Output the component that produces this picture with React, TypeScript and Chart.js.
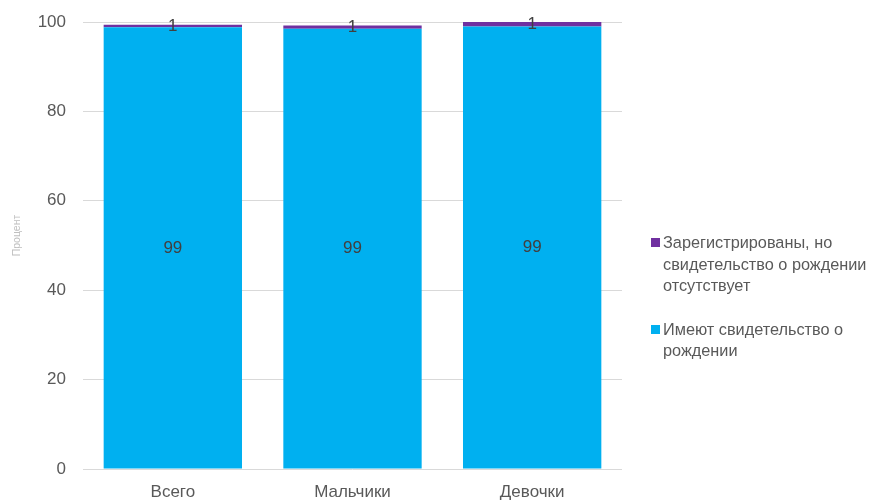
import React, { useEffect, useRef } from "react";
import { Chart, registerables } from "chart.js";

Chart.register(...registerables);

const categories = ["Всего", "Мальчики", "Девочки"];
const haveCertificate = [98.8, 98.5, 99.0];
const registeredNoCert = [0.6, 0.7, 1.0];
const yTicks = [0, 20, 40, 60, 80, 100];
const yTitle = "Процент";

const BLUE = "#00B0F0";
const PURPLE = "#7030A0";
const FONT = "'Liberation Sans', Arial, sans-serif";

const labelPlugin = {
  id: "barLabels",
  afterDatasetsDraw(chart: any) {
    const ctx = chart.ctx;
    ctx.save();
    ctx.fillStyle = "#404040";
    ctx.font = `17px ${FONT}`;
    ctx.textAlign = "center";
    ctx.textBaseline = "middle";
    chart.data.datasets.forEach((ds: any, di: number) => {
      const meta = chart.getDatasetMeta(di);
      meta.data.forEach((bar: any, i: number) => {
        const v = ds.data[i];
        const { x, y, base } = bar.getProps(["x", "y", "base"], true);
        ctx.fillText(String(Math.round(v)), x, (y + base) / 2);
      });
    });
    // axis title
    const area = chart.chartArea;
    ctx.fillStyle = "#BFBFBF";
    ctx.font = `10.5px ${FONT}`;
    ctx.translate(17.5, (area.top + area.bottom) / 2 - 10);
    ctx.rotate(-Math.PI / 2);
    ctx.fillText(yTitle, 0, 0);
    ctx.restore();
  },
};

export default function App() {
  const ref = useRef<HTMLCanvasElement>(null);
  useEffect(() => {
    if (!ref.current) return;
    const chart = new Chart(ref.current, {
      type: "bar",
      data: {
        labels: categories,
        datasets: [
          {
            label: "Имеют свидетельство о рождении",
            data: haveCertificate,
            backgroundColor: BLUE,
            categoryPercentage: 1,
            barPercentage: 0.77,
          },
          {
            label: "Зарегистрированы, но свидетельство о рождении отсутствует",
            data: registeredNoCert,
            backgroundColor: PURPLE,
            categoryPercentage: 1,
            barPercentage: 0.77,
          },
        ],
      },
      options: {
        animation: false,
        responsive: false,
        layout: { padding: { top: 22, right: 257, left: 0, bottom: 0 } },
        plugins: { legend: { display: false }, tooltip: { enabled: false } },
        scales: {
          x: {
            stacked: true,
            grid: { display: false, drawTicks: false },
            border: { display: false },
            ticks: { color: "#595959", font: { family: FONT, size: 17 }, padding: 13 },
            afterFit: (s: any) => {
              s.height = 31;
            },
          },
          y: {
            stacked: true,
            min: 0,
            max: 100,
            afterBuildTicks: (s: any) => {
              s.ticks = yTicks.map((v) => ({ value: v }));
            },
            grid: { color: "#D9D9D9", drawTicks: true, tickLength: 17, tickColor: "rgba(0,0,0,0)" },
            border: { display: false },
            ticks: { color: "#595959", font: { family: FONT, size: 17 }, padding: 0 },
            afterFit: (s: any) => {
              s.width = 83;
            },
          },
        },
      },
      plugins: [labelPlugin],
    });
    return () => chart.destroy();
  }, []);

  const legendText: React.CSSProperties = {
    whiteSpace: "nowrap",
    lineHeight: "21.5px",
  };
  const sq = (c: string): React.CSSProperties => ({
    position: "absolute",
    left: -12,
    top: 6,
    width: 9,
    height: 9,
    background: c,
  });

  return (
    <div style={{ position: "fixed", left: 0, top: 0, width: 879, height: 500, background: "#fff" }}>
      <canvas ref={ref} width={879} height={500} style={{ display: "block" }} />
      <div
        style={{
          position: "absolute",
          left: 663,
          top: 232,
          fontFamily: FONT,
          fontSize: 16.3,
          color: "#595959",
        }}
      >
        <div style={{ position: "relative", ...legendText }}>
          <span style={sq(PURPLE)} />
          Зарегистрированы, но
          <br />
          свидетельство о рождении
          <br />
          отсутствует
        </div>
        <div style={{ position: "relative", marginTop: 22, ...legendText }}>
          <span style={sq(BLUE)} />
          Имеют свидетельство о
          <br />
          рождении
        </div>
      </div>
    </div>
  );
}
